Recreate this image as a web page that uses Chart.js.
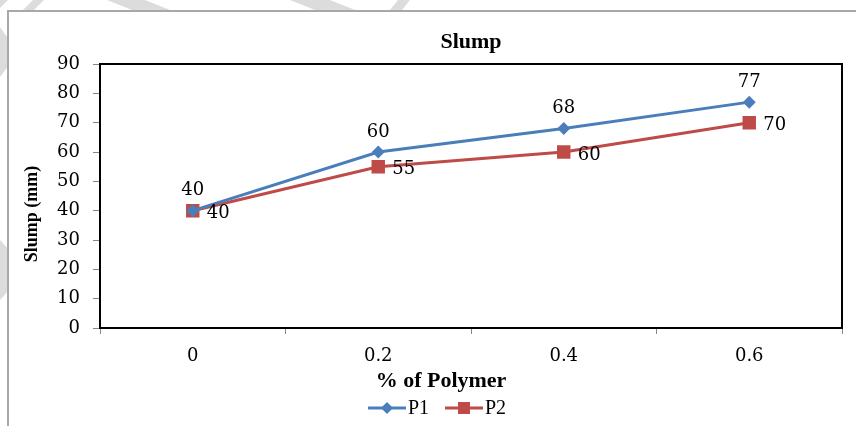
<!DOCTYPE html>
<html>
<head>
<meta charset="utf-8">
<script src="https://cdn.jsdelivr.net/npm/chart.js@4.4.1/dist/chart.umd.min.js"></script>
<style>
  html, body { margin: 0; padding: 0; background: #fff; }
  #wrap { width: 856px; height: 426px; }
</style>
</head>
<body>
<div id="wrap"><canvas id="slumpChart" width="856" height="426"></canvas></div>
<script>
// dados do gráfico
const categorias = ['0', '0.2', '0.4', '0.6'];
const serieP1 = [40, 60, 68, 77];
const serieP2 = [40, 55, 60, 70];
const ticksY = [0, 10, 20, 30, 40, 50, 60, 70, 80, 90];

const corP1 = '#4A7EBB';
const corP2 = '#BE4B48';
const fonteSerif = "'Liberation Serif', 'Times New Roman', serif";
const fonteNum = "'DejaVu Serif', serif";

// desenha o marcador (losango ou quadrado)
function marcador(g, estilo, x, y) {
    if (estilo === 'rectRot') {
        g.beginPath(); g.moveTo(x, y - 6); g.lineTo(x + 6, y); g.lineTo(x, y + 6); g.lineTo(x - 6, y); g.closePath(); g.fill();
    } else {
        g.fillRect(x - 6, y - 6, 12, 12);
    }
}

// fundo, marca d'água, moldura, títulos e legenda
const fundoPlugin = {
    id: 'fundo',
    beforeDraw(chart) {
        const ctx = chart.ctx;
        ctx.save();
        ctx.fillStyle = '#fff';
        ctx.fillRect(0, 0, chart.width, chart.height);
        ctx.fillStyle = '#dcdcdc';
        const faixas = [
            [[0, 0], [8, 0], [0, 8]],
            [[33, 0], [44, 0], [34, 10], [23, 10]],
            [[107, 0], [145, 0], [170, 10], [132, 10]],
            [[290, 0], [330, 0], [355, 10], [315, 10]],
            [[398, 0], [410, 0], [402, 10], [390, 10]],
            [[0, 27], [9, 40], [9, 65], [0, 77]],
            [[0, 240], [9, 250], [9, 290], [0, 300]]
        ];
        faixas.forEach(p => {
            ctx.beginPath();
            ctx.moveTo(p[0][0], p[0][1]);
            for (let i = 1; i < p.length; i++) ctx.lineTo(p[i][0], p[i][1]);
            ctx.closePath();
            ctx.fill();
        });
        ctx.strokeStyle = '#a8a8a8';
        ctx.lineWidth = 2;
        ctx.strokeRect(8, 11, 900, 500);
        ctx.restore();
    },
    afterDraw(chart) {
        const ctx = chart.ctx;
        const a = chart.chartArea;
        ctx.save();
        // borda da área do gráfico
        ctx.strokeStyle = '#000';
        ctx.lineWidth = 2;
        ctx.strokeRect(a.left, a.top, a.right - a.left, a.bottom - a.top);
        // títulos
        ctx.fillStyle = '#000';
        ctx.textAlign = 'center';
        ctx.textBaseline = 'middle';
        ctx.font = 'bold 22px ' + fonteSerif;
        ctx.fillText('Slump', (a.left + a.right) / 2, 42);
        ctx.fillText('% of Polymer', 441, 381);
        // legenda
        ctx.font = '20px ' + fonteSerif;
        ctx.textAlign = 'left';
        let lx = 368;
        chart.data.datasets.forEach(ds => {
            ctx.strokeStyle = ds.borderColor;
            ctx.fillStyle = ds.borderColor;
            ctx.lineWidth = 3;
            ctx.beginPath(); ctx.moveTo(lx, 408); ctx.lineTo(lx + 38, 408); ctx.stroke();
            marcador(ctx, ds.pointStyle, lx + 19, 408);
            ctx.fillStyle = '#000';
            ctx.fillText(ds.label, lx + 40, 409);
            lx += 77;
        });
        // título do eixo y
        ctx.textAlign = 'center';
        ctx.translate(32, 214);
        ctx.rotate(-Math.PI / 2);
        ctx.font = 'bold 18px ' + fonteSerif;
        ctx.fillText('Slump (mm)', 0, 0);
        ctx.restore();
    }
};

// rótulos de valores
const rotulosPlugin = {
    id: 'rotulos',
    afterDatasetsDraw(chart) {
        const ctx = chart.ctx;
        ctx.save();
        ctx.font = '18px ' + fonteNum;
        ctx.fillStyle = '#000';
        ctx.textBaseline = 'middle';
        chart.data.datasets.forEach((ds, i) => {
            const meta = chart.getDatasetMeta(i);
            meta.data.forEach((pt, j) => {
                if (i === 0) {
                    ctx.textAlign = 'center';
                    ctx.fillText(ds.data[j], pt.x, pt.y - 20);
                } else {
                    ctx.textAlign = 'left';
                    ctx.fillText(ds.data[j], pt.x + 14, pt.y + 3);
                }
            });
        });
        ctx.restore();
    }
};

const ctx = document.getElementById('slumpChart').getContext('2d');
new Chart(ctx, {
    type: 'line',
    data: {
        labels: categorias,
        datasets: [
            {
                label: 'P1',
                data: serieP1,
                borderColor: corP1,
                backgroundColor: corP1,
                borderWidth: 3,
                pointStyle: 'rectRot',
                pointRadius: 6.5,
                pointBorderWidth: 0,
                tension: 0
            },
            {
                label: 'P2',
                data: serieP2,
                borderColor: corP2,
                backgroundColor: corP2,
                borderWidth: 3,
                pointStyle: 'rect',
                pointRadius: 9.5,
                pointBorderWidth: 0,
                tension: 0
            }
        ]
    },
    options: {
        responsive: false,
        animation: false,
        layout: { padding: { left: 0, right: 14, top: 64, bottom: 36 } },
        plugins: {
            title: { display: false },
            tooltip: { enabled: false },
            legend: { display: false }
        },
        scales: {
            x: {
                offset: true,
                grid: { drawOnChartArea: false, offset: true, tickLength: 6, color: '#868686' },
                border: { display: false },
                ticks: { color: '#000', padding: 12, font: { family: fonteNum, size: 18 } },
                afterFit(scale) { scale.height = 62; }
            },
            y: {
                min: 0,
                max: 90,
                afterBuildTicks(scale) { scale.ticks = ticksY.map(v => ({ value: v })); },
                grid: { drawOnChartArea: false, tickLength: 7, color: '#868686' },
                border: { display: false },
                ticks: { color: '#000', padding: 13, font: { family: fonteNum, size: 18 } },
                afterFit(scale) { scale.width = 100; }
            }
        }
    },
    plugins: [fundoPlugin, rotulosPlugin]
});
</script>
</body>
</html>
